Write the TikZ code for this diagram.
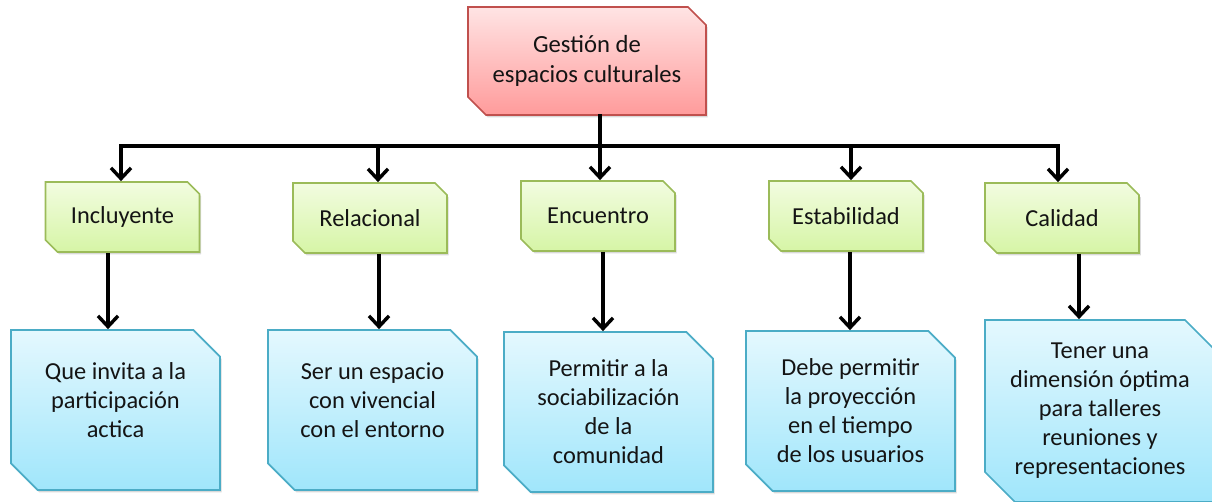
\documentclass[tikz,border=0pt]{standalone}
\usepackage{fontspec}
\setmainfont{Carlito}
\usetikzlibrary{shapes.misc, shadows, arrows.meta}

\definecolor{rootline}{RGB}{192,80,77}
\definecolor{roottop}{RGB}{255,228,228}
\definecolor{rootbot}{RGB}{255,155,155}
\definecolor{midline}{RGB}{155,187,89}
\definecolor{midtop}{RGB}{242,252,224}
\definecolor{midbot}{RGB}{214,245,166}
\definecolor{leafline}{RGB}{75,172,198}
\definecolor{leaftop}{RGB}{228,248,254}
\definecolor{leafbot}{RGB}{160,230,251}

\tikzset{
  chart/.style={chamfered rectangle, chamfered rectangle corners={north east,south west},
    inner sep=0pt, align=center, line width=1.3pt, text=black!92,
    font=\fontsize{18.3}{21.75}\selectfont,
    drop shadow={opacity=0.3, shadow xshift=1.3pt, shadow yshift=-1.8pt}},
  rootbox/.style={chart, draw=rootline, top color=roottop, bottom color=rootbot,
    minimum width=178.5pt, minimum height=81pt, chamfered rectangle sep=6.75pt,
    font=\fontsize{18.5}{23}\selectfont},
  midbox/.style={chart, draw=midline, top color=midtop, bottom color=midbot,
    minimum width=115.5pt, minimum height=52.5pt, chamfered rectangle sep=4.5pt},
  leafbox/.style={chart, draw=leafline, top color=leaftop, bottom color=leafbot,
    minimum width=156.75pt, minimum height=120pt, chamfered rectangle sep=10pt},
  conn/.style={line width=3pt, line cap=rect},
  arr/.style={line width=3pt, -{Straight Barb[length=8pt,width=15pt,line width=2.6pt]}}
}

\begin{document}
\begin{tikzpicture}[x=0.75pt, y=-0.75pt]
  \useasboundingbox (0,0) rectangle (1212,502);

  % root
  \node[rootbox] (top) at (587,61) {Gesti\'on de\\espacios culturales};

  % second level
  \node[midbox] (g1) at (122.5,217) {Incluyente};
  \node[midbox] (g2) at (370,218) {Relacional};
  \node[midbox] (g3) at (598,216) {Encuentro};
  \node[midbox] (g4) at (846,216) {Estabilidad};
  \node[midbox] (g5) at (1062,218) {Calidad};

  % leaves
  \node[leafbox] (b1) at (115.5,410) {Que invita a la\\participaci\'on\\actica\\[-7.5pt]};
  \node[leafbox] (b2) at (372.5,410) {Ser un espacio\\con vivencial\\con el entorno\\[-7.5pt]};
  \node[leafbox] (b3) at (608.5,412) {Permitir a la\\sociabilizaci\'on\\de la\\comunidad};
  \node[leafbox] (b4) at (850.5,411) {Debe permitir\\la proyecci\'on\\en el tiempo\\de los usuarios};
  \node[leafbox, minimum width=172.5pt, minimum height=136.5pt,
        chamfered rectangle sep=11.25pt] (b5) at (1100,411)
        {Tener una\\dimensi\'on \'optima\\para talleres\\reuniones y\\representaciones};

  % bar and branches
  \coordinate (trunk) at (600,146);
  \draw[conn] (top.south -| trunk) -- (trunk);
  \foreach \n/\x in {1/121, 2/378, 3/600, 4/851, 5/1058}
    \coordinate (j\n) at (\x,146);
  \draw[conn] (j1) -- (j5);
  \foreach \n in {1,...,5}
    \draw[arr] (j\n) -- (j\n |- g\n.north);

  % down to the leaves
  \foreach \n/\x in {1/108, 2/379, 3/603, 4/850, 5/1079} {
    \coordinate (k\n) at (\x,0);
    \draw[arr] (g\n.south -| k\n) -- (b\n.north -| k\n);
  }
\end{tikzpicture}
\end{document}
